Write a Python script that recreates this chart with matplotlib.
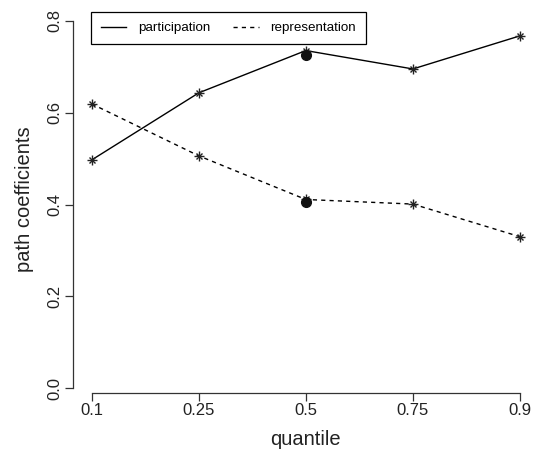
import numpy as np
import matplotlib.pyplot as plt
from matplotlib.lines import Line2D

plt.rcParams['font.family'] = ['Liberation Sans', 'DejaVu Sans']

# Quantile regression path coefficients
quantiles = ['0.1', '0.25', '0.5', '0.75', '0.9']
participation = [0.497, 0.643, 0.735, 0.695, 0.767]
representation = [0.619, 0.506, 0.411, 0.401, 0.330]
# OLS estimates, shown at the median
ols_participation = 0.726
ols_representation = 0.405

yticks = [0.0, 0.2, 0.4, 0.6, 0.8]

fig = plt.figure(figsize=(5.4, 4.5), dpi=100)
ax = fig.add_axes([0.1357, 0.1267, 0.8587, 0.86])

pos = np.arange(1, len(quantiles) + 1)

ax.plot(pos, participation, color='black', lw=1)
ax.plot(pos, representation, color='black', lw=1, dashes=(3, 3))

# R-style pch=8 asterisk: a plus and a cross on top of each other
for series in (participation, representation):
    ax.plot(pos, series, ls='none', marker='+', ms=7, mew=1, color='#222222')
    ax.plot(pos, series, ls='none', marker='x', ms=5, mew=1, color='#222222')

ax.plot([pos[2]], [ols_participation], 'o', color='#111111', ms=7)
ax.plot([pos[2]], [ols_representation], 'o', color='#111111', ms=7)

ax.set_xlim(0.828, 5.159)
ax.set_ylim(-0.010, 0.832)

for side in ('top', 'right'):
    ax.spines[side].set_visible(False)
ax.spines['left'].set_bounds(0.0, 0.8)
ax.spines['bottom'].set_bounds(1, 5)
for side in ('left', 'bottom'):
    ax.spines[side].set_linewidth(0.9)
    ax.spines[side].set_color('#333333')

ax.set_xticks(pos)
ax.set_xticklabels(quantiles)
ax.set_yticks(yticks)
ax.set_yticklabels(['%.1f' % v for v in yticks], rotation=90, va='center')
ax.tick_params(axis='both', length=6, width=0.9, color='#333333',
               labelsize=12, labelcolor='#222222')
ax.tick_params(axis='x', pad=1)
ax.tick_params(axis='y', pad=1.5)

ax.set_xlabel('quantile', fontsize=14.5, labelpad=8.5, color='#222222')
ax.set_ylabel('path coefficients', fontsize=14.5, labelpad=10, color='#222222')

handles = [Line2D([], [], color='black', lw=1),
           Line2D([], [], color='black', lw=1, dashes=(3, 3))]
leg = ax.legend(handles, ['participation', 'representation'], ncol=2,
                loc='upper left', bbox_to_anchor=(91 / 540, 1 - 12 / 450),
                bbox_transform=fig.transFigure, fontsize=9.6,
                frameon=True, fancybox=False, edgecolor='black',
                framealpha=1, handlelength=1.9, handletextpad=0.85,
                columnspacing=1.75, borderpad=0.75, borderaxespad=0)
leg.get_frame().set_linewidth(0.9)

fig.savefig('out.png', dpi=100)
